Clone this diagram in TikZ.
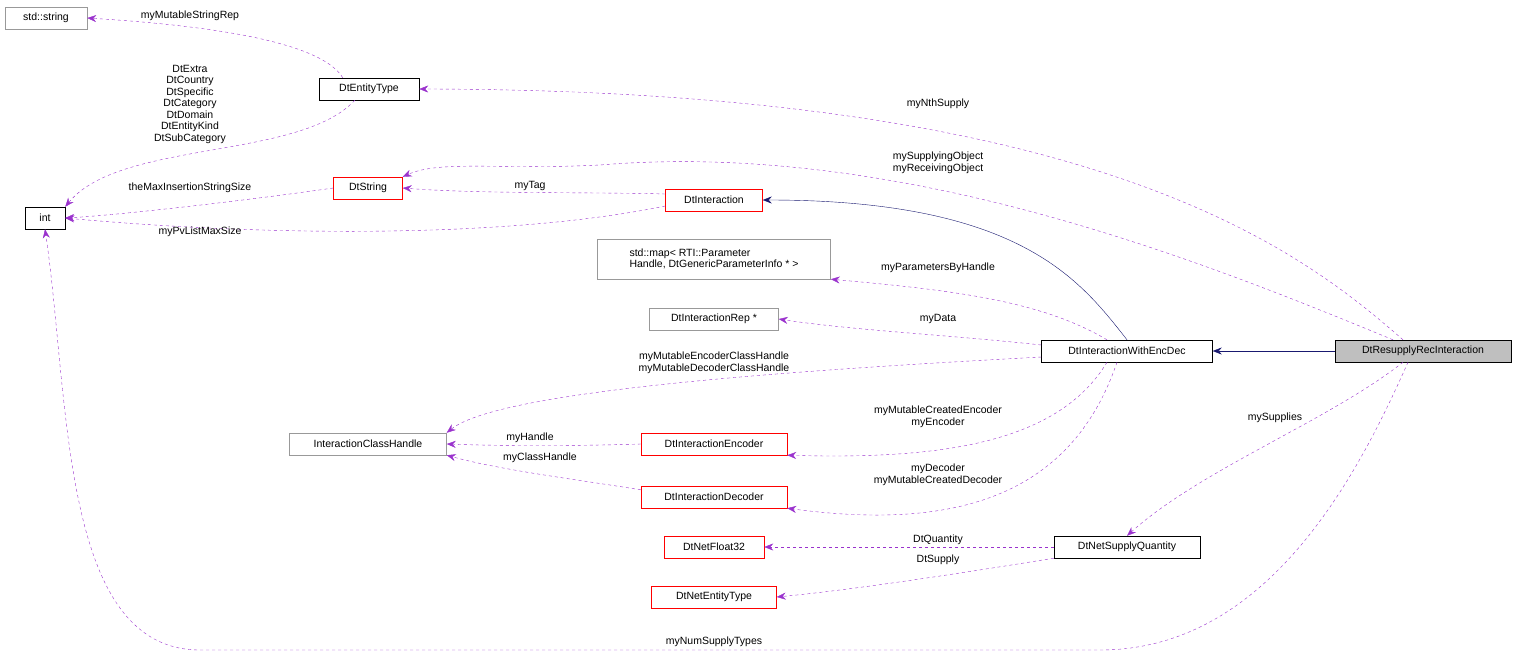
\documentclass[tikz,border=0pt]{standalone}
\usepackage{fontspec}
\setmainfont{Liberation Sans}
\usetikzlibrary{arrows.meta}
\definecolor{pur}{HTML}{9A32CD}
\definecolor{nav}{HTML}{191970}
\definecolor{gbox}{HTML}{BFBFBF}
\begin{document}
\begin{tikzpicture}[x=1pt,y=-1pt,font=\fontsize{10.5}{11.5}\selectfont,
 box/.style={draw,inner sep=0pt,minimum height=22pt,align=center},
 bk/.style={box,draw=black},
 rd/.style={box,draw=red},
 gy/.style={box,draw=gbox!80!black},
 uses/.style={draw=pur,dashed,-{Stealth[length=9pt,width=7pt]}},
 inh/.style={draw=nav,-{Stealth[length=9pt,width=7pt]}},
 lb/.style={align=center,inner sep=1pt}]
\useasboundingbox (0,0) rectangle (1517,656);
\node[gy,minimum width=82pt] (str) at (46,18) {std::string};
\node[bk,minimum width=100pt] (et) at (369,89) {DtEntityType};
\node[bk,minimum width=40pt] (int) at (45,218) {int};
\node[rd,minimum width=69pt] (ds) at (368,188) {DtString};
\node[rd,minimum width=97pt] (di) at (714,200) {DtInteraction};
\node[gy,minimum width=233pt,minimum height=40pt,align=left] (map) at (714,259) {std::map< RTI::Parameter\\Handle, DtGenericParameterInfo * >};
\node[gy,minimum width=129pt] (rep) at (714,319) {DtInteractionRep *};
\node[bk,minimum width=171pt] (wed) at (1127,351) {DtInteractionWithEncDec};
\node[bk,fill=gbox,minimum width=176pt] (rr) at (1423,351) {DtResupplyRecInteraction};
\node[gy,minimum width=157pt] (ich) at (368,444) {InteractionClassHandle};
\node[rd,minimum width=146pt] (enc) at (714,444) {DtInteractionEncoder};
\node[rd,minimum width=146pt] (dec) at (714,497) {DtInteractionDecoder};
\node[rd,minimum width=100pt] (f32) at (714,547) {DtNetFloat32};
\node[bk,minimum width=146pt] (nsq) at (1127,547) {DtNetSupplyQuantity};
\node[rd,minimum width=125pt] (net) at (714,597) {DtNetEntityType};

% inheritance
\draw[inh] (wed.north) .. controls (1080,280) and (1020,200) .. (di.east);
\draw[inh] (rr.west) -- (wed.east);

% usage
\draw[uses] (et.north west) ++(24,0) .. controls (320,40) and (200,25) .. (str.east);
\node[lb] (l1) at (190,16) {myMutableStringRep};
\draw[uses] (et.south west) ++(36,0) .. controls (300,160) and (120,140) .. (int.north east);
\node[lb] (l2) at (190,104) {DtExtra\\DtCountry\\DtSpecific\\DtCategory\\DtDomain\\DtEntityKind\\DtSubCategory};
\draw[uses] (ds.west) .. controls (250,200) and (120,215) .. (int.east);
\node[lb] (l3) at (190,188) {theMaxInsertionStringSize};
\draw[uses] (di.west) ++(0,-6) .. controls (600,192) and (480,194) .. (ds.east);
\node[lb] (l4) at (530,186) {myTag};
\draw[uses] (di.west) ++(0,6) .. controls (500,240) and (250,235) .. (int.east);
\node[lb] (l5) at (200,232) {myPvListMaxSize};
\draw[uses] (rr.north) ++(-20,0) .. controls (1300,250) and (1100,90) .. (et.east);
\node[lb] (l6) at (938,104) {myNthSupply};
\draw[uses] (rr.north) ++(-30,0) .. controls (1200,260) and (900,140) .. (600,165) .. controls (500,170) and (440,160) .. (ds.north east);
\node[lb] (l7) at (938,163) {mySupplyingObject\\myReceivingObject};
\draw[uses] (wed.north) ++(-20,0) .. controls (1040,300) and (950,290) .. (map.south east);
\node[lb] (l8) at (938,268) {myParametersByHandle};
\draw[uses] (wed.west) ++(0,-6) .. controls (950,335) and (850,330) .. (rep.east);
\node[lb] (l9) at (938,319) {myData};
\draw[uses] (wed.west) ++(0,6) .. controls (800,370) and (500,390) .. (ich.north east);
\node[lb] (l10) at (714,363) {myMutableEncoderClassHandle\\myMutableDecoderClassHandle};
\draw[uses] (wed.south) ++(-20,0) .. controls (1060,440) and (950,460) .. (enc.south east);
\node[lb] (l11) at (938,417) {myMutableCreatedEncoder\\myEncoder};
\draw[uses] (wed.south) ++(-10,0) .. controls (1070,500) and (950,530) .. (dec.south east);
\node[lb] (l12) at (938,475) {myDecoder\\myMutableCreatedDecoder};
\draw[uses] (enc.west) .. controls (580,446) and (500,446) .. (ich.east);
\node[lb] (l13) at (530,438) {myHandle};
\draw[uses] (dec.north west) ++(0,4) .. controls (580,480) and (500,470) .. (ich.south east);
\node[lb] (l14) at (540,458) {myClassHandle};
\draw[uses] (rr.south) ++(-20,0) .. controls (1330,420) and (1200,470) .. (nsq.north);
\node[lb] (l15) at (1275,418) {mySupplies};
\draw[uses] (nsq.west) -- (f32.east);
\node[lb] (l16) at (938,540) {DtQuantity};
\draw[uses] (nsq.south west) .. controls (950,575) and (850,590) .. (net.east);
\node[lb] (l17) at (938,560) {DtSupply};
\draw[uses] (rr.south) ++(-15,0) .. controls (1360,470) and (1270,650) .. (1100,650) -- (200,650) .. controls (60,650) and (70,400) .. (int.south);
\node[lb] (l18) at (714,642) {myNumSupplyTypes};
\end{tikzpicture}
\end{document}
